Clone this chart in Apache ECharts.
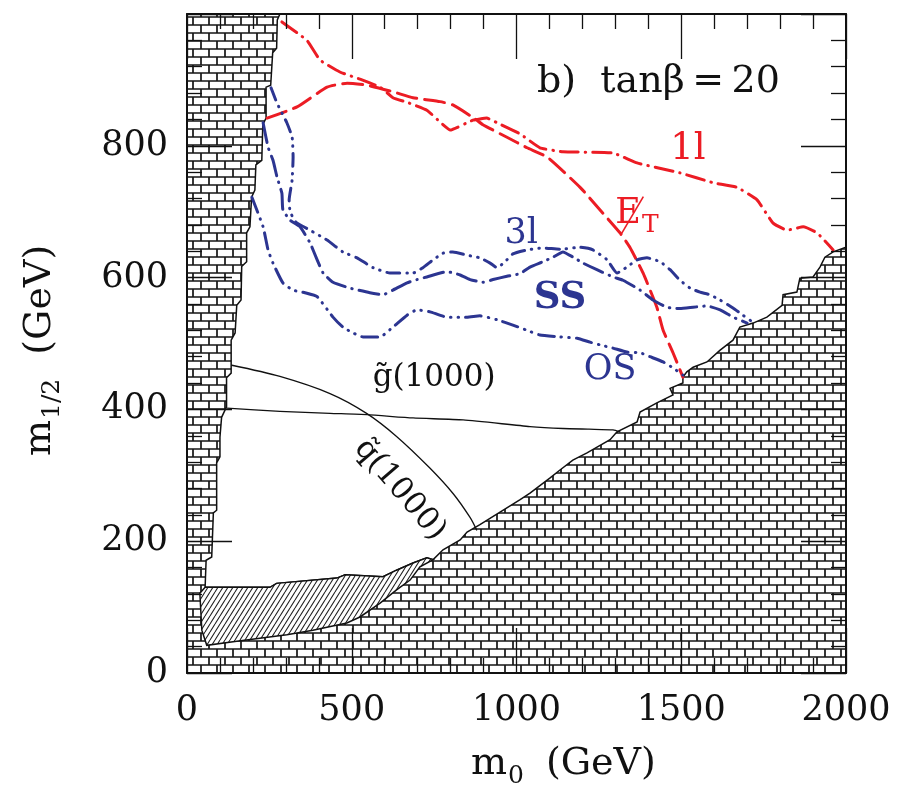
<!DOCTYPE html>
<html>
<head>
<meta charset="utf-8">
<script src="https://cdn.jsdelivr.net/npm/echarts@6/dist/echarts.min.js"></script>
<style>
  html, body { margin: 0; padding: 0; background: #fff; }
  #chart { width: 898px; height: 789px; }
</style>
</head>
<body>
<div id="chart"></div>
<script>
// mSUGRA plane, tan(beta)=20: m0 and m1/2 in GeV
const xTickLabels = ['0', '500', '1000', '1500', '2000'];
const yTickLabels = ['0', '200', '400', '600', '800'];

// Edge of the theoretically allowed region (clockwise from the top-left corner)
const allowedEdge = [
  [282,1000],[274,991],[272,948],[260,941],[254,892],[240,889],[240,842],[230,832],
  [227,778],[209,771],[206,733],[196,722],[191,677],[181,668],[181,624],[166,617],
  [164,566],[151,558],[146,516],[134,505],[134,455],[120,448],[120,404],[105,388],
  [100,358],[100,328],[90,319],[90,247],[80,243],[75,176],[58,171],[55,130],
  [252,130],[272,136],[455,144],[480,149],[595,146],[636,156],[686,167],[728,175],
  [747,172],[777,187],[829,202],[850,214],[889,225],[950,244],[1011,263],[1041,273],
  [1102,296],[1132,308],[1171,323],[1214,334],[1284,354],[1305,366],[1366,381],
  [1375,396],[1426,410],[1475,422],[1466,432],[1505,440],[1505,449],[1517,457],
  [1536,464],[1578,472],[1618,490],[1657,505],[1678,525],[1718,531],[1760,540],
  [1806,558],[1809,574],[1851,578],[1860,599],[1900,601],[1921,616],[1936,631],
  [1961,639],[2000,646],[2000,1000]
];

// LEP-excluded sliver (hatched)
const lepExcluded = [
  [55,130],[252,130],[272,136],[455,144],[480,149],[595,146],[636,156],[686,167],
  [728,175],[747,172],[707,161],[677,141],[636,126],[586,106],[525,85],[485,76],
  [382,65],[303,58],[151,48],[60,42],[45,65],[39,121]
];

// Reach contours
const oneLepton = [
  [288,988],[364,960],[404,930],[464,912],[531,900],[586,889],[625,873],[668,866],
  [728,854],[768,836],[799,824],[868,839],[910,842],[941,835],[1011,818],[1071,797],
  [1141,791],[1293,789],[1366,774],[1496,759],[1596,744],[1669,737],[1730,718],
  [1778,683],[1821,672],[1870,677],[1912,668],[1961,642]
];
const missingEt = [
  [243,842],[334,859],[425,889],[486,895],[546,892],[625,882],[686,873],[768,867],
  [807,862],[874,841],[898,832],[971,813],[1032,797],[1093,783],[1193,737],[1253,703],
  [1314,668],[1344,646],[1384,607],[1426,555],[1445,520],[1475,486],[1505,449]
];
const threeLepton = [
  [255,888],[273,865],[303,835],[319,813],[322,783],[319,748],[310,718],[313,700],
  [331,684],[373,672],[425,657],[473,639],[516,630],[565,615],[616,607],[686,607],
  [716,615],[747,627],[777,637],[807,639],[850,634],[889,630],[920,622],[941,615],
  [965,624],[989,636],[1032,642],[1080,645],[1132,643],[1193,646],[1232,642],
  [1275,627],[1305,607],[1335,616],[1366,627],[1396,630],[1436,624],[1466,612],
  [1496,596],[1527,584],[1557,578],[1587,574],[1618,566],[1657,554],[1687,543],[1718,532]
];
const sameSign = [
  [231,835],[246,798],[261,778],[273,753],[288,728],[291,703],[313,687],[343,677],
  [373,653],[395,627],[413,607],[443,593],[495,584],[555,577],[595,574],[625,581],
  [668,592],[698,597],[728,601],[789,609],[829,604],[859,597],[898,593],[929,597],
  [971,602],[1011,606],[1041,616],[1080,624],[1111,631],[1141,639],[1172,631],
  [1202,622],[1244,612],[1293,601],[1323,596],[1375,581],[1414,566],[1457,555],
  [1496,553],[1536,555],[1578,557],[1618,551],[1657,540],[1700,531]
];
const oppositeSign = [
  [197,722],[231,677],[246,642],[261,622],[291,592],[322,581],[358,577],[395,571],
  [443,540],[473,525],[504,516],[534,510],[586,510],[625,525],[668,543],[698,551],
  [738,548],[789,540],[850,540],[889,542],[941,536],[989,528],[1032,520],[1071,513],
  [1132,510],[1184,508],[1223,502],[1253,498],[1293,493],[1335,487],[1375,486],
  [1405,480],[1445,472],[1475,463],[1505,452]
];

// Mass contours: 1000 GeV gluino and squark
const gluino1000 = [
  [121,402],[282,397],[434,394],[546,392],[686,387],[838,384],[1041,374],[1141,371],
  [1220,370],[1293,369],[1314,366]
];
const squark1000 = [
  [136,467],[282,450],[434,424],[545,394],[636,359],[737,311],[808,272],[859,236],[879,217]
];

// Label anchors (data coordinates)
const labelAnchors = {
  title: [1062, 897],
  oneL: [1520, 794],
  met: [1300, 697],
  threeL: [1014, 666],
  ss: [1132, 569],
  os: [1284, 460],
  gl: [750, 448],
  sq: [646, 278]
};

const RED = '#ec1c24';
const BLUE = '#2c3591';
const INK = '#111';
const SERIF = '"DejaVu Serif", "Liberation Serif", serif';

function brickPattern() {
  const c = document.createElement('canvas');
  c.width = 16; c.height = 16;
  const g = c.getContext('2d');
  g.fillStyle = '#fff'; g.fillRect(0, 0, 16, 16);
  g.strokeStyle = '#161616'; g.lineWidth = 1.7;
  g.beginPath();
  g.moveTo(0, 1); g.lineTo(16, 1);
  g.moveTo(0, 9); g.lineTo(16, 9);
  g.moveTo(1, 1); g.lineTo(1, 9);
  g.moveTo(9, 9); g.lineTo(9, 17);
  g.moveTo(9, -1); g.lineTo(9, 1);
  g.stroke();
  return c;
}

function hatchPattern() {
  const w = 5, h = 8;
  const c = document.createElement('canvas');
  c.width = w; c.height = h;
  const g = c.getContext('2d');
  g.fillStyle = '#fff'; g.fillRect(0, 0, w, h);
  g.strokeStyle = '#222'; g.lineWidth = 1.1;
  g.beginPath();
  g.moveTo(0, h); g.lineTo(w, 0);
  g.moveTo(-w, h); g.lineTo(0, 0);
  g.moveTo(w, h); g.lineTo(2 * w, 0);
  g.stroke();
  return c;
}

function polygonSeries(name, points, fill, stroke, z) {
  return {
    type: 'custom', name: name, coordinateSystem: 'cartesian2d',
    data: [[0, 0]], z: z, silent: true, clip: true,
    renderItem: function (params, api) {
      return {
        type: 'polygon',
        shape: { points: points.map(function (p) { return api.coord(p); }) },
        style: { fill: fill, stroke: stroke, lineWidth: 1.5 }
      };
    }
  };
}

function curve(name, data, color, dash, width, smooth) {
  return {
    type: 'line', name: name, data: data, symbol: 'none', showSymbol: false,
    smooth: smooth, z: 4, silent: true, clip: true,
    lineStyle: { color: color, width: width, type: dash, cap: 'round', join: 'round' }
  };
}

function lookupLabel(list, step) {
  return function (v) {
    const i = Math.round(v / step);
    return list[i] !== undefined && Math.abs(v - i * step) < 1e-6 ? list[i] : '';
  };
}

const frameLine = { show: true, onZero: false, lineStyle: { color: INK, width: 2 } };
const majorTick = { show: true, inside: true, length: 45, lineStyle: { color: INK, width: 1.3 } };
const minorTick = { show: true, splitNumber: 5, length: 15, lineStyle: { color: INK, width: 1.3 } };

const option = {
  animation: false,
  backgroundColor: '#fff',
  grid: { left: 187, right: 52, top: 14, bottom: 116, containLabel: false },
  xAxis: [
    {
      type: 'value', min: 0, max: 2000, interval: 500, position: 'bottom', z: 10,
      axisLine: frameLine, axisTick: majorTick, minorTick: minorTick,
      splitLine: { show: false },
      axisLabel: { margin: 20, fontSize: 35, fontFamily: SERIF, color: INK,
                   formatter: lookupLabel(xTickLabels, 500) }
    },
    {
      type: 'value', min: 0, max: 2000, interval: 500, position: 'top', z: 10,
      axisLine: frameLine, axisTick: majorTick, minorTick: minorTick,
      splitLine: { show: false }, axisLabel: { show: false }
    }
  ],
  yAxis: [
    {
      type: 'value', min: 0, max: 1000, interval: 200, position: 'left', z: 10,
      axisLine: frameLine, axisTick: majorTick, minorTick: minorTick,
      splitLine: { show: false },
      axisLabel: { margin: 19, fontSize: 35, fontFamily: SERIF, color: INK,
                   formatter: lookupLabel(yTickLabels, 200) }
    },
    {
      type: 'value', min: 0, max: 1000, interval: 200, position: 'right', z: 10,
      axisLine: frameLine, axisTick: majorTick, minorTick: minorTick,
      splitLine: { show: false }, axisLabel: { show: false }
    }
  ],
  series: [
    polygonSeries('excluded', [[0,0],[2000,0],[2000,1000],[0,1000]],
                  { image: brickPattern(), repeat: 'repeat' }, INK, 1),
    polygonSeries('allowed', allowedEdge, '#fff', INK, 2),
    polygonSeries('LEP2', lepExcluded, { image: hatchPattern(), repeat: 'repeat' }, INK, 2),
    curve('gluino 1000', gluino1000, INK, 'solid', 1.3, 0.2),
    curve('squark 1000', squark1000, INK, 'solid', 1.3, 0.3),
    curve('1l', oneLepton, RED, [18, 7, 0.5, 7], 3, 0.12),
    curve('MET', missingEt, RED, [20, 8], 3, 0.15),
    curve('3l', threeLepton, BLUE, [13, 7, 0.5, 7, 0.5, 7], 3, 0.15),
    curve('SS', sameSign, BLUE, [20, 7, 0.5, 7], 3, 0.15),
    curve('OS', oppositeSign, BLUE, [16, 7, 0.5, 7, 0.5, 7], 3, 0.15)
  ]
};

const chart = echarts.init(document.getElementById('chart'), null, { renderer: 'canvas' });
chart.setOption(option);

const measure = document.createElement('canvas').getContext('2d');
function textWidth(str, size, weight) {
  measure.font = (weight || 'normal') + ' ' + size + 'px ' + SERIF;
  return measure.measureText(str).width;
}
function px(p) { return chart.convertToPixel({ gridIndex: 0 }, p); }

const TOP_Z = 100;
function txt(x, y, str, size, color, styleExtra, props) {
  return Object.assign({
    type: 'text', x: x, y: y, silent: true, z: TOP_Z,
    style: Object.assign({ text: str, fontSize: size, fontFamily: SERIF, fill: color,
                           align: 'left', verticalAlign: 'middle' }, styleExtra || {})
  }, props || {});
}

// main symbol followed by a subscript and a trailing part, laid out left to right
function subscripted(main, sub, tail, size, subSize, color, gap) {
  const parts = [];
  let x = 0;
  parts.push(txt(x, 0, main, size, color));
  x += textWidth(main, size) + 1;
  parts.push(txt(x, size * 0.32, sub, subSize, color));
  x += textWidth(sub, subSize) + gap;
  if (tail) parts.push(txt(x, 0, tail, size, color));
  return parts;
}

const graphics = [];

// axis titles
const gridBottom = px([0, 0])[1];
graphics.push({ type: 'group', x: 471, y: gridBottom + 91, z: TOP_Z, silent: true,
                children: subscripted('m', '0', '(GeV)', 38, 25, INK, 22) });
graphics.push({ type: 'group', x: 40, y: 456, z: TOP_Z, rotation: Math.PI / 2, silent: true,
                children: subscripted('m', '1/2', '(GeV)', 38, 25, INK, 24) });

// panel title
let a = px(labelAnchors.title);
graphics.push(txt(a[0], a[1], 'b)  tanβ\u2009=\u200920', 38, INK));

// channel labels
a = px(labelAnchors.oneL);
graphics.push(txt(a[0], a[1], '1l', 37, RED, { align: 'center' }));
a = px(labelAnchors.threeL);
graphics.push(txt(a[0], a[1], '3l', 35, BLUE, { align: 'center' }));
a = px(labelAnchors.ss);
graphics.push(txt(a[0], a[1], 'SS', 37, BLUE, { align: 'center', fontWeight: 'bold' }));
a = px(labelAnchors.os);
graphics.push(txt(a[0], a[1], 'OS', 35, BLUE, { align: 'center' }));

// missing transverse energy: slashed E with subscript T
a = px(labelAnchors.met);
graphics.push({
  type: 'group', x: a[0], y: a[1], z: TOP_Z, silent: true,
  children: [
    txt(0, 0, 'E', 35, RED),
    txt(textWidth('E', 35) + 1, 12, 'T', 25, RED),
    { type: 'line', z: TOP_Z, shape: { x1: 28, y1: -17, x2: 5, y2: 22 },
      style: { stroke: RED, lineWidth: 1.6 } }
  ]
});

// mass contour labels
a = px(labelAnchors.gl);
graphics.push(txt(a[0], a[1], 'g\u0303(1000)', 31, INK, { align: 'center' }));
a = px(labelAnchors.sq);
graphics.push(txt(a[0], a[1], 'q\u0303(1000)', 31, INK, { align: 'center' }, { rotation: -0.86 }));

chart.setOption({ graphic: graphics });
</script>
</body>
</html>
